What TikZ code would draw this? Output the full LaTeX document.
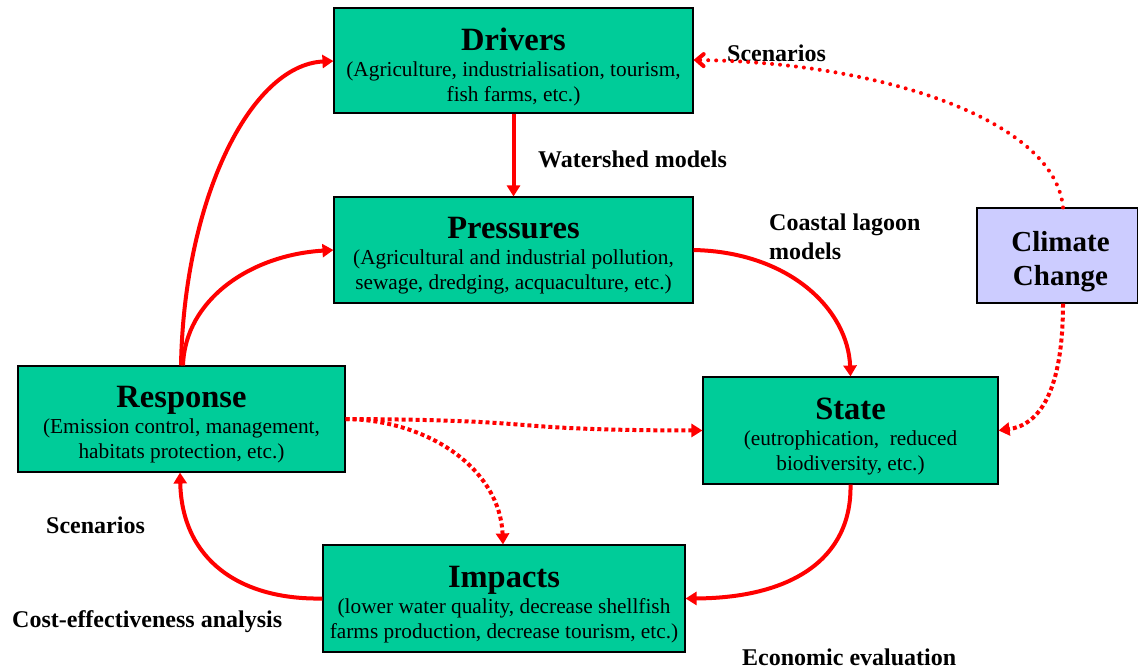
\documentclass[tikz,border=0pt]{standalone}
\usepackage{fontspec}
\setmainfont{Liberation Serif}
\usetikzlibrary{arrows.meta}
\definecolor{boxgreen}{HTML}{00CC99}
\definecolor{ccblue}{HTML}{CCCCFF}
\definecolor{arrred}{HTML}{FF0000}
\newcommand{\ttl}{\fontsize{32.5}{36}\selectfont\bfseries}
\begin{document}
\begin{tikzpicture}[x=1pt,y=-1pt,
  box/.style={draw=black,line width=1.1pt,fill=boxgreen,inner sep=0pt},
  btxt/.style={align=center,inner sep=0pt,font=\fontsize{21.3}{25}\selectfont},
  lbl/.style={font=\fontsize{24}{29}\selectfont\bfseries,inner sep=0pt,anchor=west,align=left},
  solidarr/.style={draw=arrred,line width=4pt,-{Triangle[length=11pt,width=13pt]}},
  sqdash/.style={draw=arrred,line width=4pt,dash pattern=on 4pt off 3pt,-{Triangle[length=11pt,width=13pt]}},
  rddot/.style={draw=arrred,line width=4pt,line cap=round,dash pattern=on 0pt off 8pt,-{Straight Barb[length=7pt,width=12pt,line cap=round]}}]
\useasboundingbox[fill=white] (0,0) rectangle (1138,670);

\node[box,minimum width=359pt,minimum height=105pt] (drv) at (513.5,60.5) {};
\node[box,minimum width=359pt,minimum height=106pt] (prs) at (513.5,250) {};
\node[box,minimum width=327pt,minimum height=106pt] (rsp) at (181.5,419) {};
\node[box,minimum width=295pt,minimum height=107pt] (stt) at (850.5,430.5) {};
\node[box,minimum width=362pt,minimum height=107pt] (imp) at (504,598.5) {};
\node[box,fill=ccblue,minimum width=161pt,minimum height=95pt] (clc) at (1057.5,255.5) {};

\node[btxt] (drvt) at ([yshift=-6pt]drv.center)
  {{\ttl Drivers}\\[1pt](Agriculture, industrialisation, tourism,\\fish farms, etc.)};
\node[btxt] (prst) at ([yshift=-6pt]prs.center)
  {{\ttl Pressures}\\[1pt](Agricultural and industrial pollution,\\sewage, dredging, acquaculture, etc.)};
\node[btxt] (rspt) at ([yshift=-6pt]rsp.center)
  {{\ttl Response}\\[1pt](Emission control, management,\\habitats protection, etc.)};
\node[btxt] (sttt) at ([yshift=-6pt]stt.center)
  {{\ttl State}\\[1pt](eutrophication,\ \ reduced\\biodiversity, etc.)};
\node[btxt] (impt) at ([yshift=-6pt]imp.center)
  {{\ttl Impacts}\\[1pt](lower water quality, decrease shellfish\\farms production, decrease tourism, etc.)};
\node[align=center,inner sep=0pt,font=\fontsize{29}{34}\selectfont\bfseries] (clct) at ([xshift=3pt,yshift=-6pt]clc.center)
  {Climate\\Change};

\node[lbl] (l1) at (727,53) {Scenarios};
\node[lbl] (l2) at (538,159) {Watershed models};
\node[lbl] (l3) at (769,237) {Coastal lagoon\\models};
\node[lbl] (l4) at (46,525) {Scenarios};
\node[lbl] (l5) at (12,622) {Cost-effectiveness analysis};
\node[lbl] (l6) at (742,657) {Economic evaluation};

\draw[solidarr] (drv.south) -- (prs.north);
\draw[solidarr] ([xshift=-0.5pt]rsp.north) .. controls (184,200) and (250,65) .. ([yshift=-0.5pt]drv.west);
\draw[solidarr] ([xshift=1.5pt]rsp.north) .. controls (185,300) and (250,255) .. (prs.west);
\draw[solidarr] (prs.east) .. controls (790,252) and (848,310) .. (stt.north);
\draw[solidarr] (stt.south) .. controls (852,560) and (790,598) .. (imp.east);
\draw[solidarr] (imp.west) .. controls (240,600) and (182,560) .. ([xshift=-1.5pt]rsp.south);
\draw[sqdash] (rsp.east) .. controls (560,420) and (490,430) .. (stt.west);
\draw[sqdash] (rsp.east) .. controls (430,420) and (500,470) .. ([xshift=-1pt]imp.north);
\draw[rddot] ([xshift=5.5pt]clc.north) .. controls (1055,120) and (880,62) .. ([yshift=0.5pt]drv.east);
\draw[sqdash] ([xshift=5.5pt]clc.south) .. controls (1063,390) and (1040,425) .. (stt.east);
\end{tikzpicture}
\end{document}
